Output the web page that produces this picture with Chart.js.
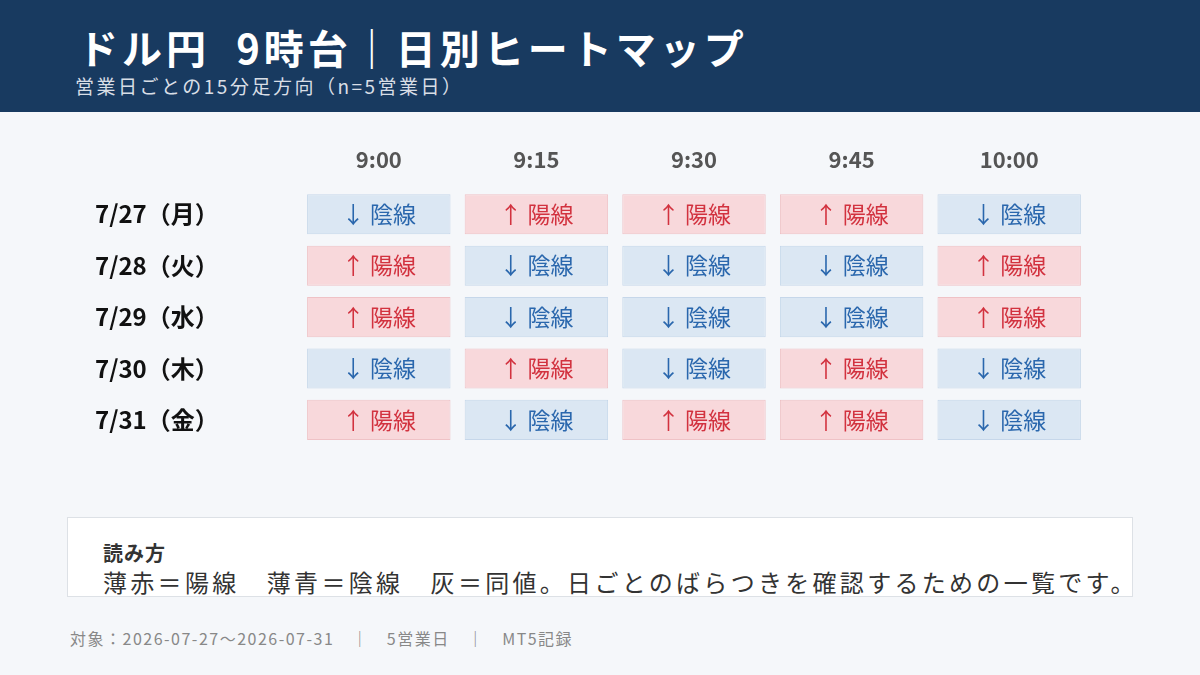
<!DOCTYPE html>
<html><head><meta charset="utf-8">
<script src="https://cdn.jsdelivr.net/npm/chart.js@4"></script>
<style>
body{margin:0;width:1200px;height:675px;background:#f5f7fa;font-family:"Noto Sans CJK JP",sans-serif;position:relative;overflow:hidden}
#hd{position:absolute;left:0;top:0;width:1200px;height:112px;background:#183a60}
#t{position:absolute;left:78px;top:22px;color:#fff;font-size:40px;font-weight:bold;line-height:50px;letter-spacing:4px;white-space:pre}
#st{position:absolute;left:75px;top:74px;color:#d8dee6;font-size:19px;line-height:24px;letter-spacing:2.5px}
#cw{position:absolute;left:95px;top:140px;width:1000px;height:323px}
#lg{position:absolute;left:67px;top:517px;width:1064px;height:78px;background:#fff;border:1px solid #dde1e6}
#lg1{position:absolute;left:35px;top:20px;font-size:20px;font-weight:bold;color:#333;letter-spacing:1px}
#lg2{position:absolute;left:35px;top:46px;font-size:24px;color:#333;white-space:pre;letter-spacing:3.3px}
#ft{position:absolute;left:70px;top:626px;font-size:16px;color:#888;letter-spacing:1.5px;white-space:pre}
</style></head><body>
<div id="hd"><div id="t">ドル円  9時台｜日別ヒートマップ</div><div id="st">営業日ごとの15分足方向（n=5営業日）</div></div>
<div id="cw"><canvas id="c"></canvas></div>
<div id="lg"><div id="lg1">読み方</div><div id="lg2">薄赤＝陽線　薄青＝陰線　灰＝同値。日ごとのばらつきを確認するための一覧です。</div></div>
<div id="ft">対象：2026-07-27～2026-07-31　｜　5営業日　｜　MT5記録</div>
<script>
const times=["9:00","9:15","9:30","9:45","10:00"];
const days=["7/27（月）","7/28（火）","7/29（水）","7/30（木）","7/31（金）"];
const dir27=[-1,1,1,1,-1];
const dir28=[1,-1,-1,-1,1];
const dir29=[1,-1,-1,-1,1];
const dir30=[-1,1,-1,1,-1];
const dir31=[1,-1,1,1,-1];
const grid=[dir27,dir28,dir29,dir30,dir31];
const datasets=grid.map((row,r)=>({
  data:row.map(()=>[r-0.39,r+0.39]),
  dirs:row,
  backgroundColor:row.map(d=>d>0?"#f8d8db":"#dbe7f3"),
  borderColor:row.map(d=>d>0?"#efc2c6":"#c6d7ea"),
  borderWidth:1,borderSkipped:false,grouped:false,
  categoryPercentage:1,barPercentage:0.91
}));
const txt={id:"txt",afterDatasetsDraw(ch){const c=ch.ctx;c.save();c.font="23px 'Noto Sans CJK JP'";c.textAlign="center";c.textBaseline="middle";
 ch.data.datasets.forEach((ds,i)=>{ch.getDatasetMeta(i).data.forEach((el,j)=>{const d=ds.dirs[j];c.fillStyle=d>0?"#d2323f":"#2a67ad";
 c.fillText(d>0?"↑ 陽線":"↓ 陰線",el.x,(el.y+el.base)/2);});});c.restore();}};
new Chart(document.getElementById("c"),{type:"bar",data:{labels:times,datasets},plugins:[txt],
options:{responsive:true,maintainAspectRatio:false,animation:false,
 layout:{padding:{right:7,top:0,bottom:0}},
 plugins:{legend:{display:false},tooltip:{enabled:false}},
 scales:{
  x:{position:"top",grid:{display:false},border:{display:false},
     ticks:{color:"#555",font:{size:22,weight:"bold",family:"Noto Sans CJK JP"},padding:8},
     afterFit:s=>{s.height=48.6}},
  y:{min:-0.5,max:4.5,reverse:true,grid:{display:false},border:{display:false},
     afterBuildTicks:s=>{s.ticks=[0,1,2,3,4].map(v=>({value:v}))},
     ticks:{callback:v=>days[v],color:"#111",crossAlign:"far",font:{size:24,weight:"bold",family:"Noto Sans CJK JP"}},
     afterFit:s=>{s.width=205}}
 }}});
</script></body></html>
